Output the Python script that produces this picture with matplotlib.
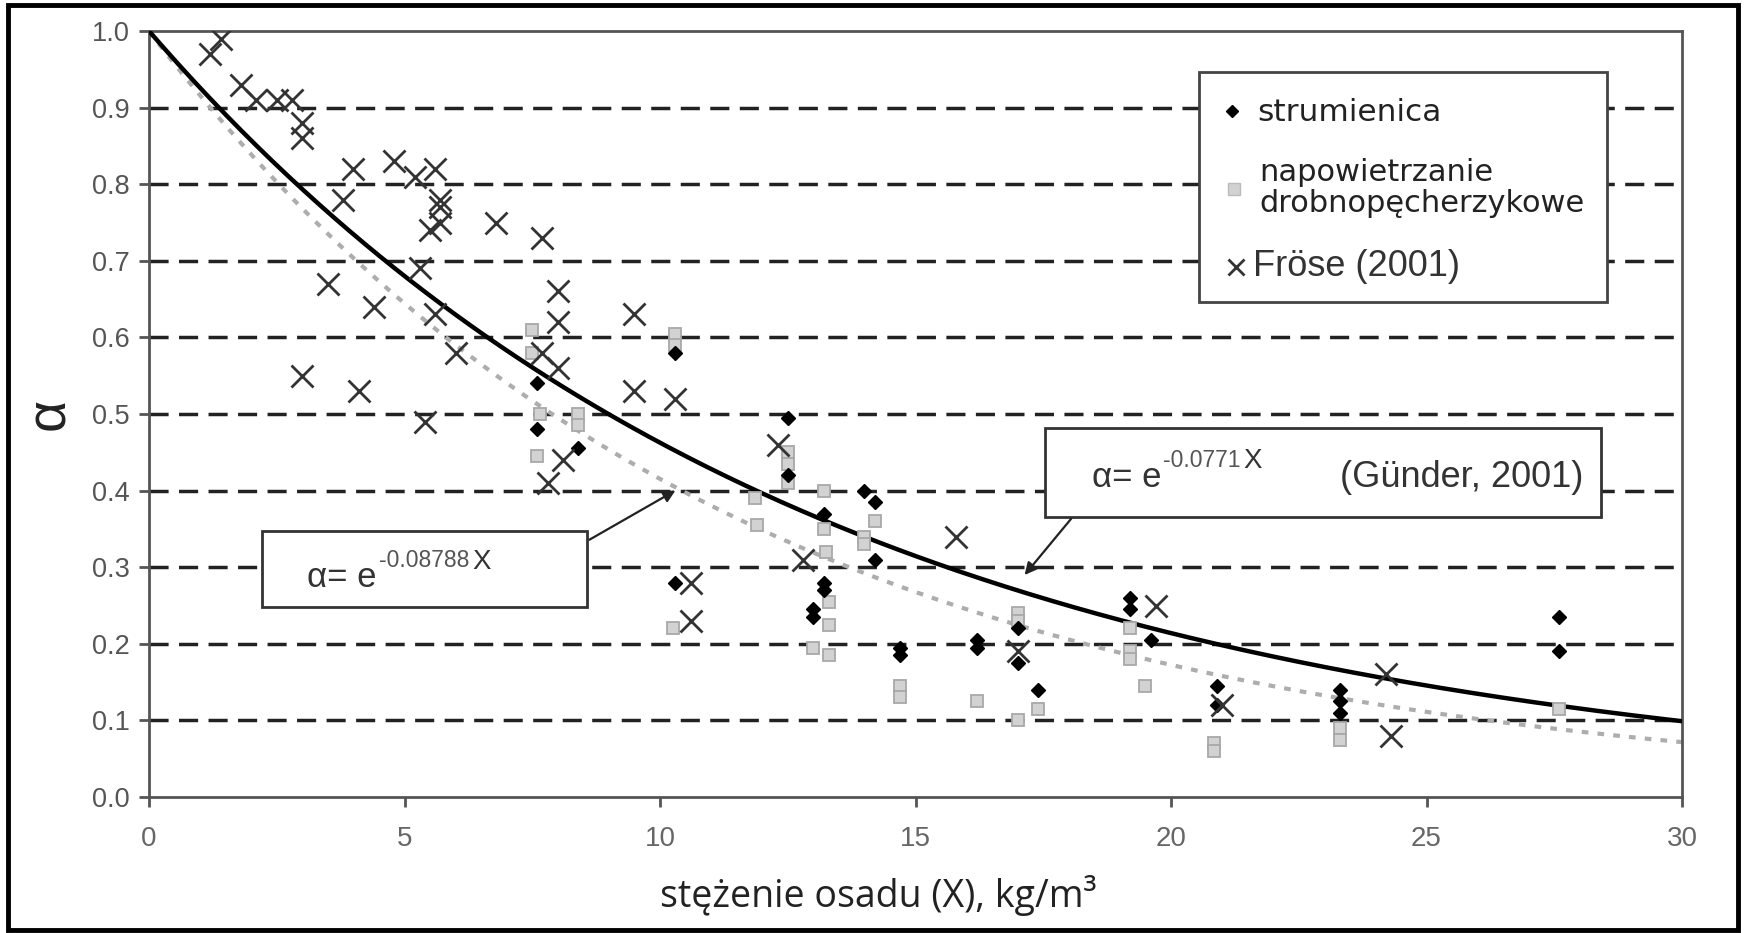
import numpy as np
import matplotlib
matplotlib.use("Agg")
import matplotlib.pyplot as plt
from matplotlib.patches import Rectangle

# ---------------- data ----------------
frose_x = [1.2, 1.4, 1.8, 2.1, 2.5, 2.8, 3.0, 3.0, 3.8, 4.0, 4.8, 5.2, 5.6, 5.7, 5.7, 5.7,
           5.5, 6.8, 7.7, 3.5, 4.4, 5.3, 5.6, 6.0, 3.0, 4.1, 5.4, 7.7, 8.0, 8.0, 8.0, 9.5,
           9.5, 10.3, 7.8, 8.1, 10.6, 10.6, 12.3, 12.8, 15.8, 17.0, 19.7, 21.0, 24.2, 24.3]
frose_y = [0.97, 0.99, 0.93, 0.91, 0.91, 0.91, 0.88, 0.86, 0.78, 0.82, 0.83, 0.81, 0.82, 0.78, 0.77, 0.75,
           0.74, 0.75, 0.73, 0.67, 0.64, 0.69, 0.63, 0.58, 0.55, 0.53, 0.49, 0.58, 0.66, 0.62, 0.56, 0.63,
           0.53, 0.52, 0.41, 0.44, 0.28, 0.23, 0.46, 0.31, 0.34, 0.19, 0.25, 0.12, 0.16, 0.08]

str_x = [7.6, 7.6, 8.4, 10.3, 10.3, 12.5, 12.5, 13.2, 13.2, 13.2, 13.0, 13.0, 14.0, 14.2, 14.2, 14.7,
         14.7, 16.2, 16.2, 17.0, 17.0, 17.4, 19.2, 19.2, 19.6, 20.9, 20.9, 23.3, 23.3, 23.3, 27.6, 27.6]
str_y = [0.54, 0.48, 0.455, 0.58, 0.28, 0.495, 0.42, 0.37, 0.28, 0.27, 0.245, 0.235, 0.40, 0.385, 0.31, 0.195,
         0.185, 0.205, 0.195, 0.22, 0.175, 0.14, 0.26, 0.245, 0.205, 0.145, 0.12, 0.14, 0.125, 0.11, 0.235, 0.19]

sq_x = [7.5, 7.5, 7.65, 7.6, 8.4, 8.4, 10.3, 10.3, 10.25, 11.85, 11.9, 12.5, 12.5, 12.5, 13.2, 13.2,
        13.25, 13.3, 13.3, 13.0, 13.3, 14.2, 14.0, 14.0, 14.7, 14.7, 16.2, 17.0, 17.0, 17.0, 17.4, 19.2,
        19.2, 19.2, 19.5, 20.85, 20.85, 23.3, 23.3, 27.6]
sq_y = [0.61, 0.58, 0.50, 0.445, 0.50, 0.485, 0.605, 0.59, 0.22, 0.39, 0.355, 0.45, 0.435, 0.41, 0.40, 0.35,
        0.32, 0.255, 0.225, 0.195, 0.185, 0.36, 0.34, 0.33, 0.145, 0.13, 0.125, 0.24, 0.23, 0.10, 0.115, 0.22,
        0.19, 0.18, 0.145, 0.07, 0.06, 0.09, 0.075, 0.115]

k_gunder = 0.0771
k_fit = 0.08788
x_ticks = [0, 5, 10, 15, 20, 25, 30]
y_ticks = [0.0, 0.1, 0.2, 0.3, 0.4, 0.5, 0.6, 0.7, 0.8, 0.9, 1.0]

SANS = ["Liberation Sans", "DejaVu Sans"]
NARROW = ["Liberation Sans Narrow", "Liberation Sans", "DejaVu Sans"]

# ---------------- figure ----------------
fig = plt.figure(figsize=(17.44, 9.33), dpi=100)
ax = fig.add_axes([149/1744, 1-797/933, (1682-149)/1744, (797-31)/933])
ax.set_xlim(0, 30)
ax.set_ylim(0, 1.0)

# grid (dashed)
for yv in y_ticks[1:-1]:
    ax.axhline(yv, color="#222222", lw=2.5, ls=(0, (5.5, 3)), zorder=1)

xx = np.linspace(0, 30, 400)
ax.plot(xx, np.exp(-k_fit*xx), color="#adadad", lw=3, ls=(0, (1.6, 2.2)), zorder=2)
ax.plot(xx, np.exp(-k_gunder*xx), color="black", lw=3.2, zorder=3)

ax.plot(sq_x, sq_y, ls="none", marker="s", ms=8.5, mfc="#d2d2d2", mec="#a8a8a8", mew=1.3, zorder=4)
ax.plot(str_x, str_y, ls="none", marker="D", ms=7.5, mfc="black", mec="black", zorder=5)
ax.plot(frose_x, frose_y, ls="none", marker="x", ms=16, mec="#333333", mew=2, zorder=6)

# spines & ticks
for s in ax.spines.values():
    s.set_color("#555555")
    s.set_linewidth(2)
ax.set_xticks(x_ticks)
ax.set_yticks(y_ticks)
ax.set_xticklabels([str(v) for v in x_ticks], fontsize=20, color="#666666", family=NARROW)
ax.set_yticklabels([f"{v:.1f}" for v in y_ticks], fontsize=19.5, color="#555555", family=SANS)
ax.tick_params(axis="x", direction="out", length=7, width=2, color="#555555", pad=14)
ax.tick_params(axis="y", direction="out", length=7, width=2, color="#555555", pad=7)

fig.text(878/1744, 1-895/933, "stężenie osadu (X), kg/m³", fontsize=27, family="Open Sans",
         color="#222222", ha="center", va="center")
fig.text(50/1744, 1-414/933, "α", fontsize=40, family=SANS, color="#222222",
         ha="center", va="center", rotation=90)

# legend box (drawn manually)
ax.add_patch(Rectangle((20.54, 0.646), 28.53-20.54, 0.946-0.646, fill=True, fc="white",
                       ec="#444444", lw=2, zorder=7))
ax.plot([21.2], [0.895], marker="D", ms=6.5, color="black", ls="none", zorder=8)
ax.text(21.68, 0.893, "strumienica", fontsize=22.5, family="DejaVu Sans", color="#222222",
        va="center", ha="left", zorder=8)
ax.plot([21.24], [0.794], marker="s", ms=8, mfc="#d2d2d2", mec="#bbbbbb", ls="none", zorder=8)
ax.text(21.72, 0.795, "napowietrzanie\ndrobnopęcherzykowe", fontsize=22, family="DejaVu Sans",
        color="#222222", va="center", ha="left", linespacing=1.05, zorder=8)
ax.plot([21.28], [0.692], marker="x", ms=11, mec="#333333", mew=2, ls="none", zorder=8)
ax.text(21.6, 0.692, "Fröse (2001)", fontsize=26, family=SANS, color="#333333",
        va="center", ha="left", zorder=8)


def equation(x, y, expo):
    t1 = ax.text(x, y, "α= e", fontsize=25, family=SANS, color="#333333",
                 va="baseline", ha="left", zorder=8)
    t2 = ax.annotate(expo, xy=(1, 0), xycoords=t1, xytext=(1.5, 19.5),
                     textcoords="offset points", fontsize=16.5, family=SANS,
                     color="#555555", va="baseline", ha="left", zorder=8)
    ax.annotate("X", xy=(1, 0), xycoords=t2, xytext=(2, 2.5),
                textcoords="offset points", fontsize=20, family=SANS,
                color="#333333", va="baseline", ha="left", zorder=8)


# equation box 1 (fit)
ax.add_patch(Rectangle((2.21, 0.248), 8.57-2.21, 0.347-0.248, fc="white", ec="#333333",
                       lw=2, zorder=7))
equation(3.1, 0.274, "-0.08788")
ax.annotate("", xy=(10.35, 0.402), xytext=(8.57, 0.334),
            arrowprops=dict(arrowstyle="-|>", color="#222222", lw=1.6, mutation_scale=18), zorder=8)

# equation box 2 (Günder)
ax.add_patch(Rectangle((17.54, 0.366), 28.42-17.54, 0.482-0.366, fc="white", ec="#333333",
                       lw=2, zorder=7))
equation(18.45, 0.405, "-0.0771")
ax.text(23.3, 0.405, "(Günder, 2001)", fontsize=26, family=SANS, color="#333333",
        va="baseline", ha="left", zorder=8)
ax.annotate("", xy=(17.1, 0.287), xytext=(18.08, 0.366),
            arrowprops=dict(arrowstyle="-|>", color="#222222", lw=1.6, mutation_scale=18), zorder=8)

# outer frame
fig.patches.append(Rectangle((8/1744, 3/933), (1738-8)/1744, (930-5)/933, fill=False,
                             ec="black", lw=3.5, transform=fig.transFigure, figure=fig))

fig.savefig("out.png", dpi=100, facecolor="white")
